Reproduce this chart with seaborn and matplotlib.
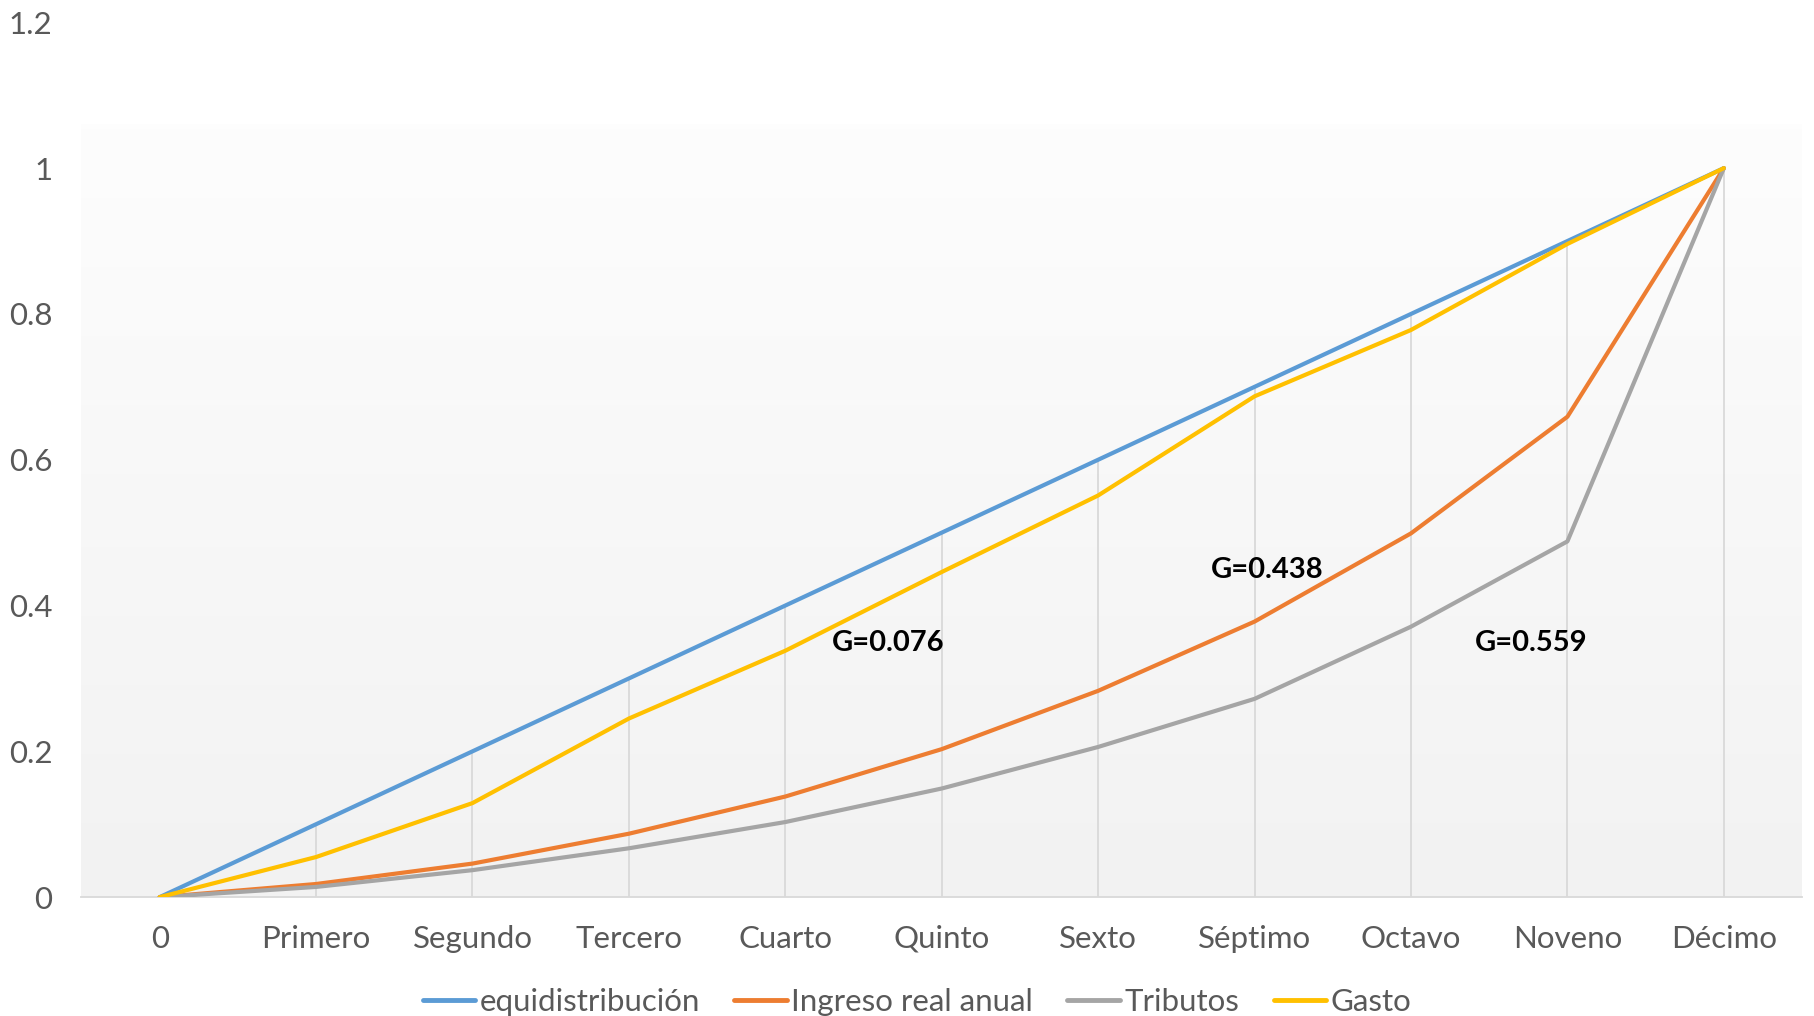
import numpy as np
import pandas as pd
import matplotlib
matplotlib.use("Agg")
import matplotlib.pyplot as plt
from matplotlib.colors import LinearSegmentedColormap
import seaborn as sns

categories = ["0", "Primero", "Segundo", "Tercero", "Cuarto", "Quinto",
              "Sexto", "Séptimo", "Octavo", "Noveno", "Décimo"]
equidistribucion = [0, 0.1, 0.2, 0.3, 0.4, 0.5, 0.6, 0.7, 0.8, 0.9, 1.0]
ingreso = [0, 0.018, 0.046, 0.087, 0.138, 0.203, 0.283, 0.378, 0.499, 0.659, 1.0]
tributos = [0, 0.014, 0.037, 0.067, 0.103, 0.149, 0.206, 0.272, 0.371, 0.488, 1.0]
gasto = [0, 0.055, 0.129, 0.245, 0.338, 0.446, 0.551, 0.687, 0.778, 0.896, 1.0]
series_names = ["equidistribución", "Ingreso real anual", "Tributos", "Gasto"]
colors = ["#5B9BD5", "#ED7D31", "#A5A5A5", "#FFC000"]
y_ticks = [0, 0.2, 0.4, 0.6, 0.8, 1.0, 1.2]
y_tick_labels = ["0", "0.2", "0.4", "0.6", "0.8", "1", "1.2"]
annotations = [("G=0.076", 4.66, 0.349), ("G=0.438", 7.08, 0.449), ("G=0.559", 8.77, 0.349)]

sns.set_theme(style="white")
plt.rcParams['font.family'] = ['Lato', 'DejaVu Sans']

x = np.arange(len(categories))
rows = []
for name, vals in zip(series_names, [equidistribucion, ingreso, tributos, gasto]):
    for xi, v in zip(x, vals):
        rows.append({"x": xi, "y": v, "serie": name})
df = pd.DataFrame(rows)

fig = plt.figure(figsize=(18.14, 10.16), dpi=100)
ax = fig.add_axes([0.0449, 0.117, 0.9485, 0.861])

# gradient plot area background
cmap = LinearSegmentedColormap.from_list("g", ["#f2f2f2", "#fdfdfd"])
grad = np.linspace(0, 1, 256)[:, None]
ax.imshow(grad, extent=(-0.5, 10.5, 0, 1.06), origin="lower", aspect="auto",
          cmap=cmap, zorder=0, interpolation="bicubic")

# drop lines
ax.vlines(x, 0, equidistribucion, colors="#d9d9d9", linewidth=1.3, zorder=1)

sns.lineplot(data=df, x="x", y="y", hue="serie", hue_order=series_names,
             palette=colors, linewidth=3.0, ax=ax, zorder=3, legend=True)

for txt, tx, ty in annotations:
    ax.text(tx, ty, txt, ha="center", va="center", fontsize=21,
            fontweight="bold", color="black", zorder=4)

ax.set_xlim(-0.5, 10.5)
ax.set_ylim(0, 1.2)
ax.set_xticks(x)
ax.set_xticklabels(categories)
ax.set_yticks(y_ticks)
ax.set_yticklabels(y_tick_labels)
ax.tick_params(axis="x", length=0, pad=20, labelsize=22.5, labelcolor="#595959")
ax.tick_params(axis="y", length=0, pad=21, labelsize=22.5, labelcolor="#595959")
ax.set_xlabel("")
ax.set_ylabel("")
for s in ["top", "right", "left"]:
    ax.spines[s].set_visible(False)
ax.spines["bottom"].set_color("#d9d9d9")
ax.spines["bottom"].set_linewidth(1.3)
ax.grid(False)

handles, labels = ax.get_legend_handles_labels()
leg = ax.legend(handles, labels, loc="center", bbox_to_anchor=(917 / 1814, 1 - 1002 / 1016),
                bbox_transform=fig.transFigure, ncol=4, frameon=False, fontsize=22.5,
                handlelength=1.67, handletextpad=0.15, columnspacing=1.1)
for t in leg.get_texts():
    t.set_color("#595959")
for h in leg.get_lines():
    h.set_linewidth(3.5)

fig.savefig("out.png", dpi=100)
